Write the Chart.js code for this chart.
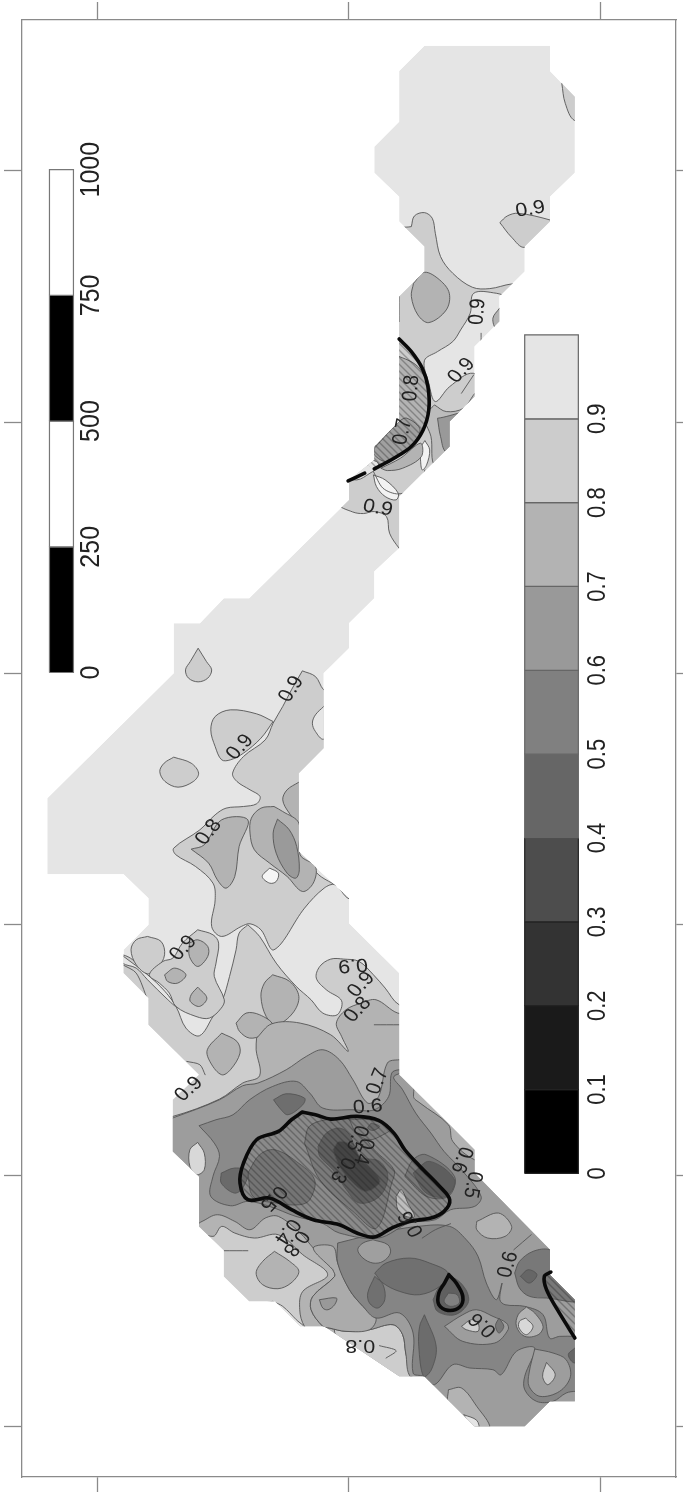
<!DOCTYPE html>
<html><head><meta charset="utf-8">
<script src="https://cdn.jsdelivr.net/npm/chart.js@4"></script>
<style>html,body{margin:0;padding:0;background:#fff}canvas{display:block;filter:blur(.45px)}</style>
</head><body><canvas id="c" width="683" height="1492"></canvas>
<script>
// ---- axes (map units) ----
const xTickValues=[226,801,1378];
const yTickValues=[513,1267,2020,2773,3527,4280];
// ---- grey levels ----
const legendLevels=[0,0.1,0.2,0.3,0.4,0.5,0.6,0.7,0.8,0.9];
const legendGreys=['#000000','#1a1a1a','#333333','#4d4d4d','#666666','#808080','#999999','#b3b3b3','#cccccc','#e5e5e5'];
const scaleBarKm=[0,250,500,750,1000];
// ---- study region outline ----
const region=[[975,137],[1263,137],[1263,213],[1320,290],[1320,518],[1263,590],[1263,665],[1205,740],[1205,815],[1147,890],[1147,965],[1090,1040],[1090,1190],[1033,1265],[1033,1340],[975,1415],[917,1490],[917,1645],[860,1715],[860,1795],[802,1870],[802,1945],[744,2020],[744,2245],[687,2320],[687,2555],[802,2695],[802,2770],[917,2920],[917,3225],[975,3300],[1033,3375],[1090,3450],[1090,3520],[1263,3750],[1263,3825],[1320,3900],[1320,4205],[1263,4205],[1205,4280],[1090,4280],[975,4130],[917,4130],[745,3980],[690,3980],[632,3905],[573,3905],[515,3830],[515,3752],[458,3680],[458,3530],[398,3455],[398,3300],[458,3225],[342,3075],[342,2995],[285,2920],[285,2850],[342,2775],[342,2695],[285,2623],[110,2623],[110,2395],[400,2020],[400,1870],[460,1870],[515,1795],[573,1795],[802,1500],[802,1440],[860,1380],[860,1340],[917,1265],[917,890],[975,815],[975,740],[917,665],[917,590],[860,518],[860,440],[917,365],[917,213]];
// ---- contour polygons, north ----
const n1=[[1290,250],[1298,310],[1320,362],[1380,362],[1380,250],[1290,250]];
const n2=[[1148,668],[1165,648],[1190,640],[1263,660],[1300,680],[1205,742],[1175,712],[1148,668]];
const n3=[[945,680],[952,648],[975,638],[993,655],[1000,700],[1012,770],[1040,820],[1085,862],[1125,866],[1175,852],[1230,850],[1200,900],[1140,880],[1088,880],[1080,940],[1058,990],[1040,1025],[1005,1055],[975,1082],[985,1150],[1000,1205],[1033,1160],[1087,1120],[1140,1180],[1140,1300],[1060,1420],[1000,1480],[960,1600],[930,1660],[917,1645],[895,1600],[888,1550],[860,1535],[835,1541],[810,1536],[775,1510],[770,1440],[840,1100],[860,700],[945,680]];
const n4=[[950,850],[975,817],[1010,840],[1032,880],[1025,930],[985,968],[960,945],[945,890],[950,850]];
const n5=[[1147,925],[1132,955],[1140,985],[1170,955],[1147,925]];
const n6=[[998,1215],[1025,1235],[1065,1225],[1095,1180],[1120,1300],[1060,1400],[1000,1400],[990,1310],[975,1250],[998,1215]];
const n7=[[1005,1255],[1100,1240],[1100,1380],[1026,1358],[1012,1310],[1005,1255]];
const n8=[[976,1322],[987,1350],[980,1395],[970,1410],[966,1380],[966,1345],[976,1322]];
const n9=[[900,1060],[960,1100],[985,1170],[985,1240],[960,1320],[900,1380],[850,1400],[840,1380],[880,1280],[900,1060]];
const n10=[[860,1345],[917,1265],[935,1255],[965,1290],[940,1345],[890,1385],[860,1365],[860,1345]];
const n11=[[875,1405],[920,1375],[966,1330],[968,1370],[925,1405],[890,1412],[875,1405]];
const n12=[[780,1430],[820,1395],[840,1380],[865,1385],[870,1400],[850,1420],[820,1440],[780,1430]];
const n13=[[858,1425],[885,1440],[915,1480],[910,1500],[885,1490],[865,1460],[858,1425]];
const nLine1=[[858,1415],[880,1465],[915,1482],[965,1460],[976,1410]];
const nLine2=[[1060,1180],[1088,1125]];
const nLine3=[[1105,1000],[1105,1025]];
const nLine4=[[917,890],[917,965]];
// ---- contour polygons, middle ----
const m1=[[456,1945],[475,1985],[487,2010],[478,2035],[456,2046],[434,2035],[427,2010],[438,1985],[456,1945]];
const m2=[[695,2013],[725,2030],[744,2070],[780,2100],[780,2260],[720,2360],[720,2600],[770,2655],[850,2700],[802,2697],[770,2655],[745,2665],[700,2725],[630,2850],[600,2790],[575,2772],[555,2780],[510,2810],[487,2780],[495,2700],[490,2650],[450,2600],[405,2565],[400,2545],[460,2490],[495,2445],[520,2425],[560,2420],[590,2412],[598,2390],[575,2370],[545,2345],[535,2320],[560,2270],[610,2220],[628,2170],[650,2120],[670,2070],[695,2013]];
const m3=[[628,2165],[590,2142],[530,2130],[495,2150],[485,2190],[495,2240],[510,2280],[530,2280],[560,2260],[600,2215],[628,2165]];
const m4=[[400,2272],[440,2290],[457,2320],[445,2345],[410,2362],[380,2345],[368,2315],[378,2290],[400,2272]];
const m5=[[744,2120],[725,2145],[718,2170],[725,2195],[744,2218],[790,2170],[744,2120]];
const m6=[[687,2347],[660,2370],[650,2400],[665,2440],[687,2470],[730,2450],[730,2350],[687,2347]];
const m7=[[630,2420],[600,2425],[578,2455],[575,2500],[585,2550],[620,2590],[660,2630],[695,2675],[720,2650],[725,2600],[690,2565],[687,2470],[650,2435],[630,2420]];
const m8=[[638,2458],[628,2500],[635,2560],[660,2620],[680,2635],[688,2610],[682,2540],[665,2490],[638,2458]];
const m9=[[440,2548],[470,2535],[510,2460],[570,2460],[550,2540],[540,2630],[520,2665],[500,2640],[480,2590],[440,2548]];
const m10=[[620,2605],[640,2620],[635,2645],[620,2650],[603,2630],[620,2605]];
// ---- contour polygons, cluster ----
const c1=[[570,2775],[597,2810],[635,2890],[681,2960],[715,3000],[742,3040],[775,3045],[785,3003],[750,2970],[727,2935],[735,2900],[760,2878],[790,2878],[825,2885],[858,2925],[885,2965],[917,3015],[1000,3050],[1100,3300],[1400,3800],[1400,4450],[900,4450],[300,3500],[250,3100],[250,2860],[283,2865],[306,2880],[340,2925],[375,2970],[405,3020],[428,3085],[459,3108],[490,3050],[512,3000],[528,2930],[543,2850],[550,2800],[570,2775]];
const c2=[[283,2868],[340,2925],[380,2975],[405,3020],[385,2998],[340,2940],[314,2905],[283,2890],[283,2868]];
const c3=[[340,2810],[371,2825],[379,2865],[363,2905],[340,2922],[314,2895],[302,2850],[314,2820],[340,2810]];
const c4=[[455,2790],[490,2805],[503,2830],[497,2890],[493,2930],[516,3000],[509,3025],[482,3055],[451,3050],[405,3020],[390,2980],[367,2950],[344,2925],[375,2885],[398,2875],[420,2830],[455,2790]];
const c5=[[436,2830],[455,2820],[478,2840],[478,2870],[455,2900],[436,2870],[436,2830]];
const c6=[[379,2925],[402,2905],[428,2925],[409,2950],[386,2945],[379,2925]];
const c7=[[455,2962],[476,2995],[459,3020],[438,3005],[440,2985],[455,2962]];
const c8=[[627,2925],[666,2945],[687,2990],[673,3040],[635,3075],[612,3050],[600,2990],[608,2950],[627,2925]];
const c9=[[543,3070],[566,3040],[597,3045],[627,3075],[604,3105],[574,3115],[551,3095],[543,3070]];
const c10=[[510,3100],[545,3125],[552,3160],[530,3210],[510,3225],[485,3190],[477,3150],[510,3100]];
const c11=[[632,3125],[655,3140],[657,3165],[635,3188],[618,3165],[618,3140],[632,3125]];
const cLine1=[[283,2895],[314,2920],[340,3000]];
const cLine2=[[860,3075],[917,3075]];
const cLine3=[[430,3185],[460,3195],[472,3225]];
// ---- contour polygons, south ----
const s1=[[590,3115],[625,3072],[690,3070],[760,3105],[800,3155],[785,3110],[773,3070],[795,3030],[830,3010],[864,3000],[914,3040],[980,3050],[1150,3400],[1400,3700],[1400,4450],[1000,4300],[760,4080],[700,3980],[689,3930],[696,3875],[753,3825],[696,3765],[640,3705],[585,3715],[540,3700],[510,3680],[490,3710],[440,3680],[340,3500],[340,3360],[398,3350],[505,3298],[558,3250],[597,3228],[589,3150],[590,3115]];
const s2=[[849,3990],[903,3975],[925,4005],[932,4060],[945,4135],[900,4150],[800,4060],[770,3985],[849,3990]];
const s3=[[631,3755],[666,3785],[687,3815],[669,3850],[639,3867],[604,3855],[589,3820],[604,3785],[631,3755]];
const s4=[[627,3905],[650,3920],[681,3960],[700,3985],[640,3985],[590,3920],[627,3905]];
const s5=[[300,3400],[399,3354],[505,3300],[558,3258],[593,3250],[658,3210],[704,3170],[742,3150],[780,3180],[811,3240],[845,3310],[870,3290],[890,3190],[917,3180],[960,3180],[950,3290],[965,3310],[1030,3375],[1040,3425],[1090,3480],[1130,3480],[1140,3560],[1400,3600],[1400,4450],[1200,4450],[945,4135],[932,4060],[925,4005],[903,3975],[849,3990],[795,3995],[757,3985],[742,3980],[715,3930],[719,3890],[769,3830],[765,3810],[720,3745],[690,3700],[640,3650],[610,3655],[575,3690],[540,3665],[500,3645],[465,3665],[440,3680],[300,3600],[300,3400]];
const s6=[[765,3810],[769,3830],[719,3890],[715,3930],[742,3980],[757,3985],[795,3995],[849,3990],[864,3955],[834,3920],[803,3870],[776,3790],[765,3740],[720,3745],[765,3810]];
const s7=[[734,3900],[773,3895],[769,3915],[754,3930],[742,3925],[734,3900]];
const s8=[[776,3730],[776,3790],[803,3870],[834,3920],[864,3955],[918,3940],[949,4000],[949,4120],[973,4130],[998,4155],[1040,4095],[1079,4105],[1132,4110],[1151,4125],[1186,4055],[1228,4045],[1205,4130],[1205,4170],[1232,4205],[1270,4205],[1300,4180],[1323,4175],[1400,4175],[1400,4010],[1320,4010],[1285,4010],[1262,4015],[1247,3945],[1205,3920],[1160,3915],[1148,3900],[1153,3850],[1140,3900],[1117,3850],[1098,3770],[1071,3720],[1033,3680],[960,3680],[870,3700],[776,3730]];
const s9=[[1021,3980],[1063,3945],[1094,3930],[1132,3950],[1163,3970],[1167,3990],[1136,4030],[1063,4025],[1021,3980]];
const s10=[[1228,4048],[1270,4060],[1300,4080],[1310,4130],[1285,4175],[1240,4190],[1215,4160],[1215,4120],[1228,4048]];
const s11=[[1255,4088],[1275,4125],[1258,4155],[1246,4130],[1255,4088]];
const s12=[[857,3720],[891,3735],[897,3760],[880,3785],[857,3790],[834,3775],[822,3750],[834,3730],[857,3720]];
const s13=[[861,3820],[887,3790],[941,3775],[987,3790],[1029,3820],[1010,3860],[964,3885],[918,3875],[880,3850],[861,3820]];
const s14=[[861,3830],[845,3880],[849,3910],[868,3925],[884,3900],[880,3855],[861,3830]];
const s15=[[995,3900],[1010,3860],[1040,3835],[1070,3870],[1075,3910],[1045,3945],[1005,3935],[995,3900]];
const s16=[[1030,3880],[1050,3885],[1055,3910],[1035,3920],[1020,3905],[1030,3880]];
const s17=[[975,3945],[1002,4040],[991,4110],[973,4130],[962,4040],[964,3980],[975,3945]];
const s18=[[1182,3820],[1193,3785],[1224,3755],[1263,3750],[1340,3800],[1340,3900],[1255,3895],[1216,3890],[1193,3865],[1182,3820]];
const s19=[[1195,3830],[1213,3810],[1233,3825],[1216,3850],[1195,3830]];
const s20=[[1209,3922],[1228,3940],[1247,3980],[1236,4005],[1205,4010],[1186,3980],[1190,3945],[1209,3922]];
const s21=[[1207,3955],[1224,3980],[1209,4005],[1192,3985],[1193,3965],[1207,3955]];
const s22=[[1146,3955],[1157,3980],[1146,4000],[1138,3978],[1146,3955]];
const s23=[[1060,3980],[1083,3960],[1098,3970],[1098,3995],[1071,3990],[1060,3980]];
const s24=[[1320,4045],[1305,4065],[1320,4090],[1350,4065],[1320,4045]];
const s25=[[1030,4170],[1060,4165],[1095,4220],[1125,4285],[1090,4300],[1030,4210],[1030,4170]];
const s26=[[1065,4245],[1095,4262],[1100,4290],[1085,4285],[1065,4245]];
const s27=[[1095,3665],[1145,3640],[1175,3680],[1160,3710],[1120,3715],[1095,3690],[1095,3665]];
const sLine1=[[516,3753],[570,3753]];
const sLine2=[[872,4038],[910,4053],[887,4075]];
const sLine3=[[1035,3672],[1000,3690],[970,3715]];
const sLine4=[[1180,3750],[1220,3705]];
// ---- central low ----
const a1=[[458,3378],[497,3360],[536,3345],[574,3300],[627,3260],[681,3245],[712,3280],[742,3325],[811,3330],[860,3330],[893,3290],[900,3220],[917,3210],[960,3210],[905,3230],[925,3270],[955,3340],[990,3400],[1020,3455],[1060,3510],[1105,3590],[1090,3620],[1035,3630],[1000,3660],[940,3670],[870,3715],[780,3700],[740,3670],[680,3650],[620,3620],[570,3605],[530,3618],[485,3590],[490,3530],[505,3470],[493,3430],[458,3378]];
const a2=[[455,3428],[470,3460],[470,3510],[452,3525],[437,3500],[437,3450],[455,3428]];
const a3=[[700,3430],[711,3380],[750,3360],[803,3360],[860,3450],[905,3510],[900,3550],[865,3685],[811,3635],[735,3540],[700,3430]];
const a4=[[731,3440],[750,3400],[780,3385],[803,3405],[826,3470],[872,3485],[891,3530],[872,3590],[826,3610],[796,3570],[765,3510],[735,3470],[731,3440]];
const a5=[[765,3450],[780,3425],[811,3440],[830,3480],[868,3530],[872,3550],[841,3575],[811,3550],[780,3500],[765,3450]];
const a6=[[570,3520],[597,3465],[631,3450],[681,3485],[723,3540],[712,3600],[689,3615],[635,3610],[582,3590],[570,3520]];
const a7=[[509,3520],[539,3505],[570,3515],[558,3565],[539,3580],[509,3550],[509,3520]];
const a8=[[629,3300],[658,3282],[700,3295],[696,3315],[662,3345],[643,3325],[629,3300]];
const a9=[[803,3360],[849,3360],[899,3385],[880,3405],[849,3420],[819,3400],[803,3360]];
const a10=[[853,3370],[872,3380],[857,3392],[845,3385],[853,3370]];
const a11=[[930,3530],[949,3480],[979,3465],[1044,3530],[1030,3590],[980,3590],[930,3530]];
const a12=[[949,3520],[987,3485],[1044,3540],[1025,3590],[979,3580],[949,3520]];
const a13=[[910,3590],[922,3570],[937,3610],[952,3650],[933,3650],[914,3630],[910,3590]];
// ---- thick boundaries ----
const blackNorth=[[917,1017],[945,1055],[970,1105],[983,1160],[985,1230],[972,1290],[945,1340],[905,1375],[860,1407]];
const blackDash=[[800,1443],[838,1420]];
const blackCentral=[[695,3337],[725,3345],[760,3358],[820,3350],[870,3362],[905,3400],[930,3450],[965,3500],[1010,3560],[1033,3600],[1020,3635],[990,3655],[940,3665],[900,3685],[860,3712],[820,3700],[780,3675],[720,3660],[670,3630],[620,3595],[570,3600],[552,3550],[560,3490],[590,3420],[640,3395],[670,3360],[695,3337]];
const blackDrop=[[1031,3825],[1048,3850],[1063,3890],[1056,3922],[1029,3932],[1008,3915],[1008,3880],[1021,3850],[1031,3825]];
const blackSouth=[[1265,3817],[1250,3830],[1255,3870],[1280,3930],[1320,4015]];
const hatchNorth=[...blackNorth,[840,1380],[850,1300],[900,1000],[917,1017]];
const hatchSouth=[...blackSouth,[1400,4015],[1400,3817],[1265,3817]];
// ---- contour labels: text, x, y, angle ----
const mapLabels=[['0.9',1218,628,-10],['0.9',1097,935,-85],['0.9',1060,1112,-50],['0.8',945,1165,-85],['0.7',925,1295,-80],['0.9',868,1525,10],['0.9',670,2068,-60],['0.9',552,2242,-50],['0.8',480,2497,-55],['0.9',422,2845,-50],['0.9',811,2895,175],['0.9',830,2955,-50],['0.8',822,3030,-50],['0.9',435,3268,-45],['0.7',868,3245,-70],['0.6',845,3322,-5],['0.5',820,3415,110],['0.4',835,3455,105],['0.3',787,3510,120],['0.6',1060,3480,110],['0.5',1085,3555,100],['0.5',628,3595,130],['0.4',660,3695,125],['0.8',680,3730,125],['0.6',945,3672,-120],['0.8',828,4038,180],['0.6',1167,3795,-75],['0.6',1109,3975,-135]];

const L9='#cdcdcd',L8='#b3b3b3',L7='#9d9d9d',L6='#858585',LT='#e5e5e5';
const polygons=[
[region,LT,0],[n1,L9],[n2,L9],[n3,L9],[n4,L8],[n5,L8],[n6,'#bcbcbc'],[n7,'#999999'],[n8,'#f2f2f2'],[n9,L8],[n10,'#a0a0a0'],[n11,L8],[n12,LT],[n13,'#f2f2f2'],
[m2,L9],[m1,L9],[m3,L9],[m4,L9],[m5,LT],[m6,L8],[m7,L8],[m8,'#9a9a9a'],[m9,L8],[m10,'#f5f5f5'],
[c1,L9],[c2,LT],[c3,L9],[c4,L9],[c5,L8],[c6,L8],[c7,L8],[c8,L8],[c9,L8],[c10,L8],[c11,L8],
[s1,L8],[s2,L9],[s3,L8],[s4,LT],[s5,L7],[s6,'#ababab'],[s7,'#999999'],[s8,L6],[s9,L7],[s10,L7],[s11,'#cccccc'],[s12,'#9f9f9f'],[s13,'#707070'],[s14,'#707070'],[s15,'#606060'],[s16,'#808080'],[s17,'#6c6c6c'],[s18,'#787878'],[s19,'#666666'],[s20,L8],[s21,'#d8d8d8'],[s22,'#777777'],[s23,L9],[s24,'#666666'],[s25,L8],[s26,LT],[s27,L8],
[a1,'#8a8a8a'],[a2,'#d8d8d8'],[a3,'#7a7a7a'],[a4,'#5f5f5f'],[a5,'#444444'],[a6,'#747474'],[a7,'#6a6a6a'],[a8,'#6e6e6e'],[a9,'#808080'],[a10,'#6a6a6a'],[a11,'#777777'],[a12,'#5e5e5e'],[a13,'#bdbdbd']
];
const thinLines=[nLine1,nLine2,nLine3,nLine4,cLine1,cLine2,cLine3,sLine1,sLine2,sLine3,sLine4];

// diagonal hatch tile
const tile=document.createElement('canvas');tile.width=tile.height=7;
{const t=tile.getContext('2d');t.strokeStyle='rgba(30,30,30,.32)';t.lineWidth=1.4;t.beginPath();
 t.moveTo(-2,-2);t.lineTo(9,9);t.moveTo(-9,-2);t.lineTo(2,9);t.moveTo(5,-2);t.lineTo(16,9);t.stroke();}
const hatch=tile.getContext('2d').createPattern(tile,'repeat');

const pts=a=>a.map(p=>({x:p[0],y:p[1]}));
const ds=[];
const fillDs=(a,c,lw,t)=>({data:pts(a),showLine:true,fill:'shape',backgroundColor:c,borderColor:'#555555',borderWidth:lw,tension:t,pointRadius:0});
const lineDs=(a,c,lw,t)=>({data:pts(a),showLine:true,fill:false,borderColor:c,borderWidth:lw,tension:t,pointRadius:0,borderCapStyle:'round',borderJoinStyle:'round'});
polygons.forEach(p=>ds.push(fillDs(p[0],p[1],p[2]===0?0:0.9,p[2]===0?0:0.35)));
thinLines.forEach(l=>ds.push(lineDs(l,'#555555',0.9,0.3)));
ds.push(fillDs(hatchNorth,hatch,0,0.3));
ds.push(fillDs(blackCentral,hatch,0,0.35));
ds.push(fillDs(hatchSouth,hatch,0,0.3));
const overlayStart=ds.length;
[blackNorth,blackDash,blackCentral,blackDrop,blackSouth].forEach(l=>ds.push(lineDs(l,'#0a0a0a',3.6,0.35)));
// legend bands and scale bar, positioned from their values on the map's y units
const legendY=v=>3521-v*2516, kmY=k=>2018-k*1.509;
const rect=(x0,x1,y0,y1)=>[[x0,y0],[x1,y0],[x1,y1],[x0,y1],[x0,y0]];
legendLevels.forEach((v,i)=>{const d=fillDs(rect(1205,1328,legendY(v),legendY(v+0.1)),legendGreys[i],1.2,0);d.borderColor=i<4?'#222':'#666';ds.push(d);});
scaleBarKm.slice(0,-1).forEach((k,i)=>{const d=fillDs(rect(115,170,kmY(k),kmY(scaleBarKm[i+1])),i%2?'#ffffff':'#000000',1.2,0);d.borderColor='#777';ds.push(d);});
ds.forEach((d,i)=>{d.order=ds.length-i;});

const mapClip={id:'mapClip',
 beforeDatasetsDraw(ch){const c=ch.ctx,sx=ch.scales.x,sy=ch.scales.y;c.save();c.beginPath();
  region.forEach((p,i)=>{const X=sx.getPixelForValue(p[0]),Y=sy.getPixelForValue(p[1]);i?c.lineTo(X,Y):c.moveTo(X,Y);});c.closePath();c.clip();},
 beforeDatasetDraw(ch,args){if(args.index===overlayStart)ch.ctx.restore();}
};
const stretchedText={id:'stretchedText',afterDatasetsDraw(ch){const c=ch.ctx,sx=ch.scales.x,sy=ch.scales.y;
 const put=(s,x,y,a,size)=>{c.save();c.translate(sx.getPixelForValue(x),sy.getPixelForValue(y));c.scale(1.13,1);c.rotate(a*Math.PI/180);
  c.font=size+'px "Liberation Sans"';c.fillStyle='#222222';c.textAlign='center';c.textBaseline='middle';c.fillText(s,0,0);c.restore();};
 mapLabels.forEach(l=>put(l[0],l[1],l[2],l[3],19));
 legendLevels.forEach(v=>put(String(v),1373,legendY(v),-90,22));
 scaleBarKm.forEach(k=>put(String(k),210,kmY(k),-90,25));
}};
const axis=(pos,ticks,len,rev,extra)=>Object.assign({type:'linear',position:pos,reverse:rev,
 afterBuildTicks:a=>{a.ticks=ticks.map(v=>({value:v}));},
 ticks:{display:false},
 grid:{drawOnChartArea:false,drawTicks:true,tickLength:len,tickColor:'#8a8a8a',tickWidth:1.3},
 border:{display:true,color:'#8a8a8a',width:1.3}},extra);
new Chart(document.getElementById('c'),{type:'scatter',data:{datasets:ds},plugins:[mapClip,stretchedText],
 options:{responsive:false,animation:false,parsing:true,events:[],
  layout:{padding:{left:4,right:0,top:2,bottom:0}},
  plugins:{legend:{display:false},tooltip:{enabled:false},title:{display:false}},
  scales:{
   x:axis('top',xTickValues,18,false,{min:52,max:1552}),
   x2:axis('bottom',xTickValues,15,false,{min:52,max:1552}),
   y:axis('left',yTickValues,18,true,{min:60,max:4432}),
   y2:axis('right',yTickValues,7,true,{min:60,max:4432})
  }}});
</script></body></html>
